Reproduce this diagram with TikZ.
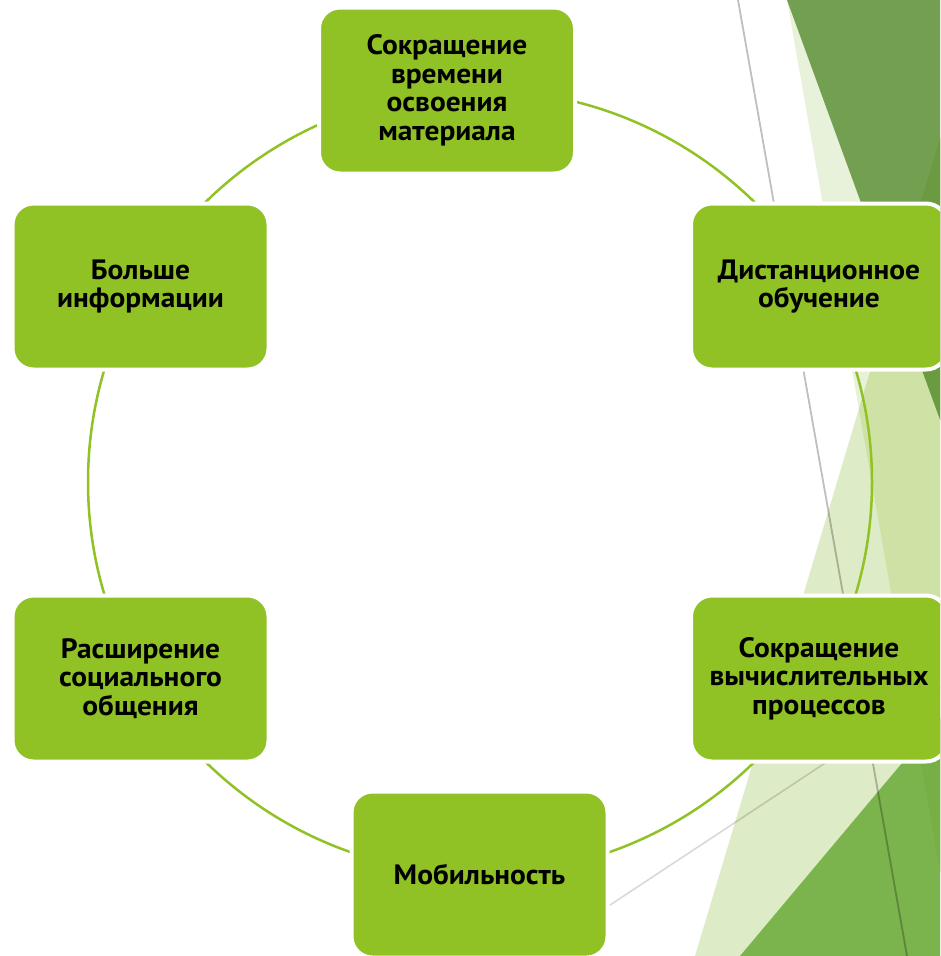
\documentclass[tikz,border=0pt]{standalone}
\usepackage{fontspec}
\setmainfont{PT Sans}[FakeStretch=1.05]
\definecolor{boxgreen}{HTML}{90C226}
\definecolor{paleA}{HTML}{E8F1DA}
\definecolor{paleB}{HTML}{DDEBC6}
\definecolor{paleAB}{HTML}{CFE2A5}
\definecolor{darkg}{HTML}{739F50}
\definecolor{darkgB}{HTML}{6A9B40}
\definecolor{midg}{HTML}{7BB34D}
\definecolor{midgA}{HTML}{76AF46}
\begin{document}
\begin{tikzpicture}[x=1pt,y=-1pt,
  box/.style={rounded corners=21pt, fill=boxgreen, draw=white, line width=4pt,
    minimum width=256pt, minimum height=166pt, inner sep=0pt, align=center,
    font=\bfseries\fontsize{28}{28.5}\selectfont},
  ring/.style={draw=boxgreen, line width=2.5pt},
  faint/.style={draw=black, line width=1.8pt, opacity=0.25},
  fainter/.style={draw=black, line width=1.6pt, opacity=0.15}]
\useasboundingbox (0,0) rectangle (940,956);
\clip (0,0) rectangle (940,956);
% background facets
\def\triA{(787,0) -- (955,956) -- (960,956) -- (960,0) -- cycle}
\def\triB{(947,115) -- (695,956) -- (960,956) -- (960,115) -- cycle}
\def\triD{(787,0) -- (960,0) -- (960,474) -- cycle}
\def\triM{(740,956) -- (960,694) -- (960,956) -- cycle}
\fill[paleA] \triA;
\fill[paleB] \triB;
\begin{scope}\clip \triA; \fill[paleAB] \triB; \end{scope}
\fill[darkg] \triD;
\begin{scope}\clip \triD; \fill[darkgB] \triB; \end{scope}
\fill[midg] \triM;
\begin{scope}\clip \triA; \fill[midgA] \triM; \end{scope}
% thin lines
\coordinate (g1a) at (738,0);
\coordinate (g1b) at (907,956);
\coordinate (g2a) at (960,674);
\coordinate (g2b) at (354,1074);
\draw[faint] (g1a) -- (g1b);
\draw[fainter] (g2a) -- (g2b);
% ring
\coordinate (c) at (480,482);
\draw[ring] (c) circle[radius=392];
% boxes
\node[box] (top) at (447,90.5) {Сокращение\\времени\\освоения\\материала};
\node[box] (ru) at (819,286.5) {Дистанционное\\обучение};
\node[box] (rl) at (819,678.5) {Сокращение\\вычислительных\\процессов};
\node[box] (bot) at (479.5,874.5) {Мобильность};
\node[box] (ll) at (140.5,678.5) {Расширение\\социального\\общения};
\node[box] (lu) at (140.5,286.5) {Больше\\информации};
\end{tikzpicture}
\end{document}
